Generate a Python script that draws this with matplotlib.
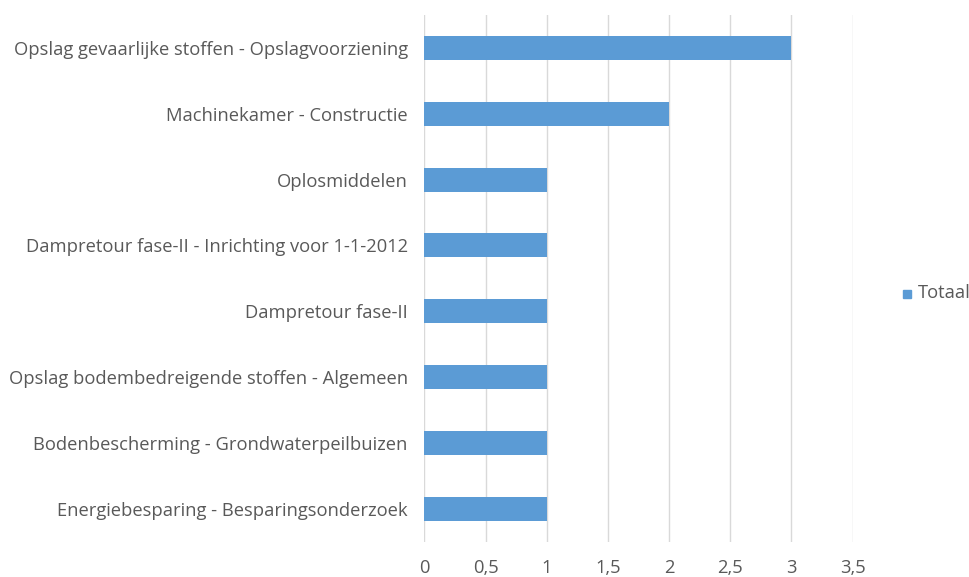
import matplotlib
matplotlib.use("Agg")
import matplotlib.pyplot as plt
from matplotlib.ticker import FuncFormatter, MultipleLocator
from matplotlib.patches import Rectangle

categories = [
    "Opslag gevaarlijke stoffen - Opslagvoorziening",
    "Machinekamer - Constructie",
    "Oplosmiddelen",
    "Dampretour fase-II - Inrichting voor 1-1-2012",
    "Dampretour fase-II",
    "Opslag bodembedreigende stoffen - Algemeen",
    "Bodenbescherming - Grondwaterpeilbuizen",
    "Energiebesparing - Besparingsonderzoek",
]
values = [3, 2, 1, 1, 1, 1, 1, 1]
series_name = "Totaal"

plt.rcParams['font.family'] = ['Open Sans', 'DejaVu Sans']
txt_color = "#595959"
bar_color = "#5B9BD5"
fs = 13.2

fig = plt.figure(figsize=(9.7, 5.77), dpi=100)
ax = fig.add_axes([0.4376, 0.0615, 0.879 - 0.4376, 0.974 - 0.0615])

y = list(range(len(categories)))
ax.barh(y, values, height=0.365, color=bar_color, zorder=3)
ax.set_ylim(len(categories) - 0.5, -0.5)
ax.set_xlim(0, 3.5)
ax.xaxis.set_major_locator(MultipleLocator(0.5))
ax.xaxis.set_major_formatter(FuncFormatter(lambda v, p: (f"{v:g}").replace(".", ",")))
ax.set_yticks(y)
ax.set_yticklabels(categories)
ax.grid(axis='x', color="#d9d9d9", linewidth=1.0, zorder=0)
for s in ax.spines.values():
    s.set_visible(False)
ax.tick_params(axis='both', length=0, colors=txt_color, labelsize=fs)
ax.tick_params(axis='y', pad=12)
ax.tick_params(axis='x', pad=12.5)

# legend
fig.patches.append(Rectangle((903 / 970, 1 - 298 / 577), 8 / 970, 8 / 577,
                             transform=fig.transFigure, color=bar_color))
fig.text(918 / 970, 1 - 293 / 577, series_name, color=txt_color, fontsize=fs,
         va='center', ha='left')

fig.savefig("out.png", dpi=100)
